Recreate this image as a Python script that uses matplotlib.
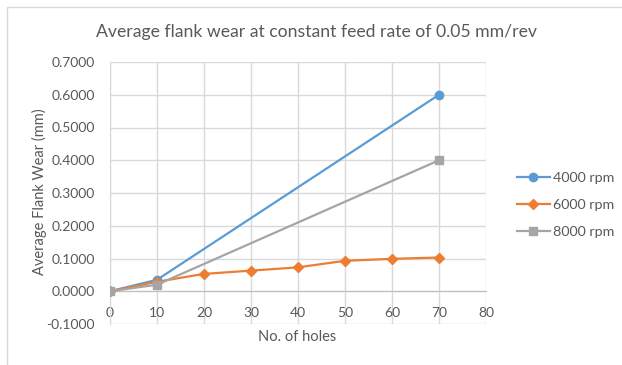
"""Average flank wear vs number of holes at three spindle speeds."""
import matplotlib
matplotlib.use('Agg')
from matplotlib import pyplot as plt
from matplotlib.lines import Line2D

holes_a = [0, 10, 70]
wear_4000 = [0.0, 0.035, 0.600]
holes_b = [0, 10, 20, 30, 40, 50, 60, 70]
wear_6000 = [0.0, 0.029, 0.053, 0.063, 0.073, 0.093, 0.099, 0.103]
holes_c = [0, 10, 70]
wear_8000 = [0.0, 0.020, 0.400]

x_ticks = [0, 10, 20, 30, 40, 50, 60, 70, 80]
y_ticks = [-0.1, 0.0, 0.1, 0.2, 0.3, 0.4, 0.5, 0.6, 0.7]

TEXT = '#595959'
GRID = '#D9D9D9'

plt.rcParams['font.family'] = ['Lato', 'DejaVu Sans']

fig = plt.figure(figsize=(6.22, 3.65), dpi=100)
# chart frame, left and top edges
fig.add_artist(Line2D([7.5 / 622, 7.5 / 622, 1], [0, 1 - 6.5 / 365, 1 - 6.5 / 365],
                      transform=fig.transFigure, color=GRID, lw=1))
ax = fig.add_axes([110 / 622, 1 - 324 / 365, 376 / 622, 262 / 365])

ax.plot(holes_a, wear_4000, color='#5B9BD5', lw=1.6, marker='o', ms=6,
        label='4000 rpm', zorder=3)
ax.plot(holes_b, wear_6000, color='#ED7D31', lw=1.6, marker='D', ms=5,
        label='6000 rpm', zorder=3)
ax.plot(holes_c, wear_8000, color='#A5A5A5', lw=1.6, marker='s', ms=6,
        label='8000 rpm', zorder=4)

ax.set_xlim(0, 80)
ax.set_ylim(-0.1, 0.7)
ax.set_xticks(x_ticks)
ax.set_yticks(y_ticks)
ax.set_yticklabels(['%.4f' % v for v in y_ticks])
ax.grid(True, color=GRID, lw=1)
ax.set_axisbelow(True)
for s in ['top', 'right']:
    ax.spines[s].set_visible(False)
ax.spines['bottom'].set_position(('data', 0))
ax.spines['bottom'].set_color('#BFBFBF')
ax.spines['left'].set_color(GRID)
ax.tick_params(length=0, colors=TEXT, labelsize=10)
ax.tick_params(axis='y', pad=11)
ax.tick_params(axis='x', pad=11)

fig.text(297 / 622, 1 - 337 / 365, 'No. of holes', ha='center', va='center',
         color=TEXT, fontsize=10.5)
fig.text(39 / 622, 1 - 192 / 365, 'Average Flank Wear (mm)', ha='center',
         va='center', rotation=90, color=TEXT, fontsize=10.5)
fig.text(317 / 622, 1 - 32 / 365,
         'Average flank wear at constant feed rate of 0.05 mm/rev',
         ha='center', va='center', color=TEXT, fontsize=12.7)

fig.legend(loc='center left', bbox_to_anchor=(517 / 622, 1 - 205 / 365),
           borderaxespad=0, borderpad=0, frameon=False, fontsize=10.3,
           labelcolor=TEXT, handlelength=2.3, handletextpad=0.2,
           labelspacing=1.05)

fig.savefig('out.png', dpi=100)
